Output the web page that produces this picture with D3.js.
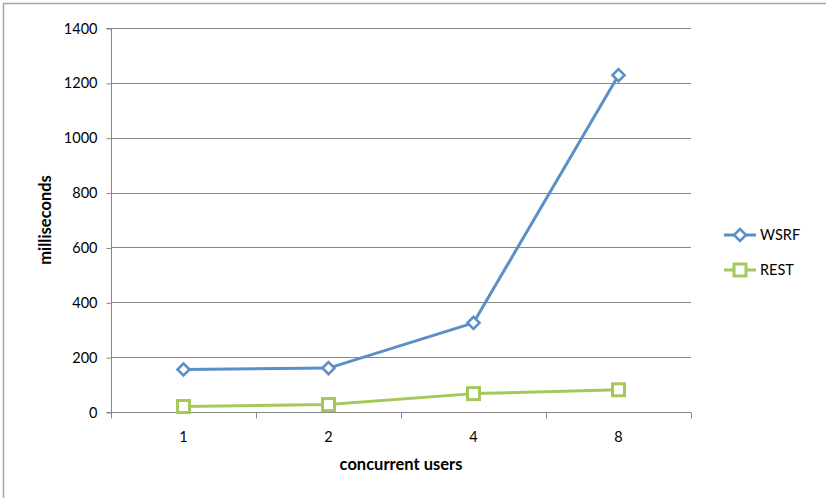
<!DOCTYPE html>
<html>
<head>
<meta charset="utf-8">
<script src="https://cdn.jsdelivr.net/npm/d3@7"></script>
<style>
  html, body { margin: 0; padding: 0; background: #fff; }
  svg { display: block; }
  text { font-family: Lato, "Open Sans", "Liberation Sans", sans-serif; fill: #000; }
</style>
</head>
<body>
<svg id="chart" width="826" height="498"></svg>
<script>
// Response times per number of concurrent users
const categories = ["1", "2", "4", "8"];
const wsrf = [155, 160, 325, 1228];
const rest = [20, 27, 67, 81];
const yTicks = [0, 200, 400, 600, 800, 1000, 1200, 1400];
const seriesNames = ["WSRF", "REST"];

const svg = d3.select("#chart");
const W = 826, H = 498;
const m = { left: 111, right: 691, top: 28, bottom: 412 };

// outer frame (top and left edges visible)
svg.append("rect")
  .attr("x", 3.5).attr("y", 3.5)
  .attr("width", W + 10).attr("height", H + 10)
  .attr("fill", "none").attr("stroke", "#a6a6a6").attr("stroke-width", 1.5);

const x = d3.scaleBand().domain(categories).range([m.left, m.right]).paddingInner(0).paddingOuter(0);
const y = d3.scaleLinear().domain([0, 1400]).range([m.bottom, m.top]);

// horizontal gridlines
svg.append("g").selectAll("line").data(yTicks.filter(d => d > 0)).join("line")
  .attr("x1", m.left).attr("x2", m.right)
  .attr("y1", d => Math.round(y(d)) + 0.5).attr("y2", d => Math.round(y(d)) + 0.5)
  .attr("stroke", "#878787").attr("stroke-width", 1);

// y axis
const yAxis = svg.append("g")
  .attr("transform", `translate(${m.left + 0.5},0.5)`)
  .call(d3.axisLeft(y).tickValues(yTicks).tickSize(5).tickPadding(9).tickFormat(d3.format("d")));
yAxis.select(".domain").attr("stroke", "#878787").attr("d", `M-5,${y(0)}H0V${y(1400)}H-5`);
yAxis.selectAll(".tick line").attr("stroke", "#878787");
yAxis.selectAll(".tick text").style("font-size", "14.5px").style("font-family", "Lato, 'Open Sans', sans-serif").attr("fill", "#000");

// x axis with ticks on band boundaries
const xAxisG = svg.append("g").attr("transform", `translate(0,${Math.round(y(0)) + 0.5})`);
xAxisG.append("line").attr("x1", m.left).attr("x2", m.right).attr("stroke", "#878787");
const bounds = categories.map(c => x(c)).concat([x(categories[categories.length - 1]) + x.bandwidth()]);
xAxisG.selectAll(".bt").data(bounds).join("line").attr("class", "bt")
  .attr("x1", d => Math.round(d) + 0.5).attr("x2", d => Math.round(d) + 0.5)
  .attr("y1", 0).attr("y2", 6).attr("stroke", "#878787");
xAxisG.selectAll(".xl").data(categories).join("text").attr("class", "xl")
  .attr("x", d => x(d) + x.bandwidth() / 2).attr("y", 29)
  .attr("text-anchor", "middle").style("font-size", "14.5px").text(d => d);

// axis titles
svg.append("text").attr("x", (m.left + m.right) / 2).attr("y", 470)
  .attr("text-anchor", "middle").style("font-size", "16.5px").style("font-weight", "bold")
  .text("concurrent users");
svg.append("text").attr("transform", `translate(51,${(m.top + m.bottom) / 2}) rotate(-90)`)
  .attr("text-anchor", "middle").style("font-size", "16.5px").style("font-weight", "bold")
  .text("milliseconds");

const cx = d => x(d) + x.bandwidth() / 2;
const colors = ["#5b8fc7", "#a4c95a"];
const line = d3.line().x((d, i) => cx(categories[i])).y(d => y(d));

function diamond(g, px, py, color) {
  const s = 6;
  g.append("path")
    .attr("d", `M${px},${py - s}L${px + s},${py}L${px},${py + s}L${px - s},${py}Z`)
    .attr("fill", "#fff").attr("stroke", color).attr("stroke-width", 2.6);
}
function square(g, px, py, color) {
  const s = 6;
  g.append("rect").attr("x", px - s).attr("y", py - s).attr("width", 2 * s).attr("height", 2 * s)
    .attr("fill", "#fff").attr("stroke", color).attr("stroke-width", 3);
}

[wsrf, rest].forEach((vals, si) => {
  const g = svg.append("g");
  g.append("path").datum(vals).attr("d", line)
    .attr("fill", "none").attr("stroke", colors[si]).attr("stroke-width", 3)
    .attr("stroke-linejoin", "round");
  vals.forEach((v, i) => {
    (si === 0 ? diamond : square)(g, cx(categories[i]), y(v), colors[si]);
  });
});

// legend
const lg = svg.append("g");
seriesNames.forEach((name, i) => {
  const ly = 235 + i * 35;
  lg.append("line").attr("x1", 724).attr("x2", 756).attr("y1", ly).attr("y2", ly)
    .attr("stroke", colors[i]).attr("stroke-width", 3);
  (i === 0 ? diamond : square)(lg, 740, ly, colors[i]);
  lg.append("text").attr("x", 760).attr("y", ly + 5).style("font-size", "14.5px").text(name);
});
</script>
</body>
</html>
